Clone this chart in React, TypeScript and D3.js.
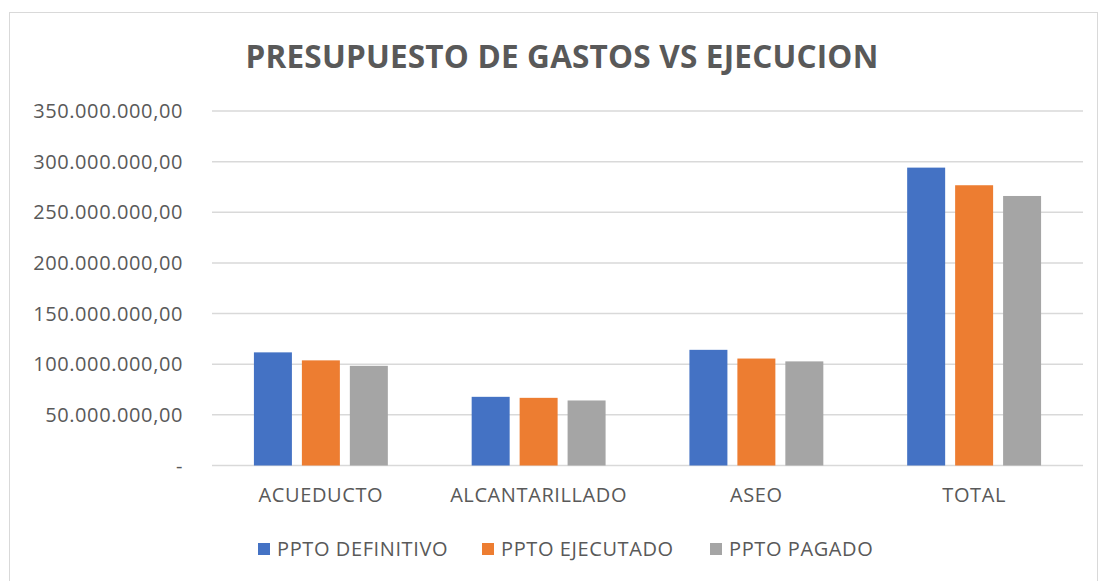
import * as d3 from "d3";

const categories = ["ACUEDUCTO", "ALCANTARILLADO", "ASEO", "TOTAL"];
const seriesNames = ["PPTO DEFINITIVO", "PPTO EJECUTADO", "PPTO PAGADO"];
const pptoDefinitivo = [111.7e6, 67.8e6, 114.2e6, 294.1e6];
const pptoEjecutado = [103.8e6, 66.8e6, 105.6e6, 276.7e6];
const pptoPagado = [98.4e6, 64.2e6, 102.8e6, 266.1e6];
const yTicks = [0, 50e6, 100e6, 150e6, 200e6, 250e6, 300e6, 350e6];
const colors = ["#4472C4", "#ED7D31", "#A5A5A5"];

const W = 1099, H = 581;
const m = { left: 212, right: 1083, top: 111, bottom: 465.5 };
const FONT = "'Open Sans', 'DejaVu Sans', sans-serif";
const TXT = "#595959";
const FS = 20;
const LS = 0.6;

// 350000000 -> "350.000.000,00", 0 -> "-"
const fmt = (v: number) => {
  if (v === 0) return "-";
  const s = d3.format(",.2f")(v);
  return s.replace(/,/g, "#").replace(".", ",").replace(/#/g, ".");
};

export default function App() {
  const series = [pptoDefinitivo, pptoEjecutado, pptoPagado];

  const x = d3.scaleBand<string>().domain(categories).range([m.left, m.right]);
  const bw = x.bandwidth();
  const groupW = bw * 0.615;
  const x1 = d3.scaleBand<string>()
    .domain(seriesNames)
    .range([(bw - groupW) / 2, (bw + groupW) / 2])
    .paddingInner(0.208);
  const y = d3.scaleLinear().domain([0, 350e6]).range([m.bottom, m.top]);

  const legendX = [258, 482, 710];

  return (
    <svg width={W} height={H} style={{ position: "absolute", left: 0, top: 0, background: "#fff" }}
      fontFamily={FONT}>
      <rect x={9.5} y={12.5} width={W - 11} height={H - 12} fill="#fff" stroke="#d9d9d9" strokeWidth={1} />

      <text x={562} y={68} textAnchor="middle" fontSize={31.5} letterSpacing={0.2} fontWeight="bold" fill={TXT}>
        PRESUPUESTO DE GASTOS VS EJECUCION
      </text>

      {/* grid + y labels */}
      {yTicks.map((t) => (
        <g key={t}>
          <line x1={m.left} x2={m.right} y1={y(t)} y2={y(t)} stroke="#d9d9d9" strokeWidth={1.5} />
          <text x={183} y={y(t)} dy="0.35em" textAnchor="end" fontSize={FS} letterSpacing={LS} fill={TXT}>
            {fmt(t)}
          </text>
        </g>
      ))}

      {/* bars */}
      {categories.map((c, i) => (
        <g key={c} transform={`translate(${x(c)},0)`}>
          {seriesNames.map((s, j) => (
            <rect key={s} x={x1(s)} y={y(series[j][i])} width={x1.bandwidth()}
              height={y(0) - y(series[j][i])} fill={colors[j]} />
          ))}
        </g>
      ))}

      {/* category labels */}
      {categories.map((c) => (
        <text key={c} x={(x(c) as number) + bw / 2} y={495} dy="0.35em" textAnchor="middle"
          fontSize={FS} letterSpacing={LS} fill={TXT}>
          {c}
        </text>
      ))}

      {/* legend */}
      {seriesNames.map((s, j) => (
        <g key={s} transform={`translate(${legendX[j]},549)`}>
          <rect x={0} y={-6} width={12} height={12} fill={colors[j]} />
          <text x={19} y={0} dy="0.35em" fontSize={FS} letterSpacing={LS} fill={TXT}>{s}</text>
        </g>
      ))}
    </svg>
  );
}
